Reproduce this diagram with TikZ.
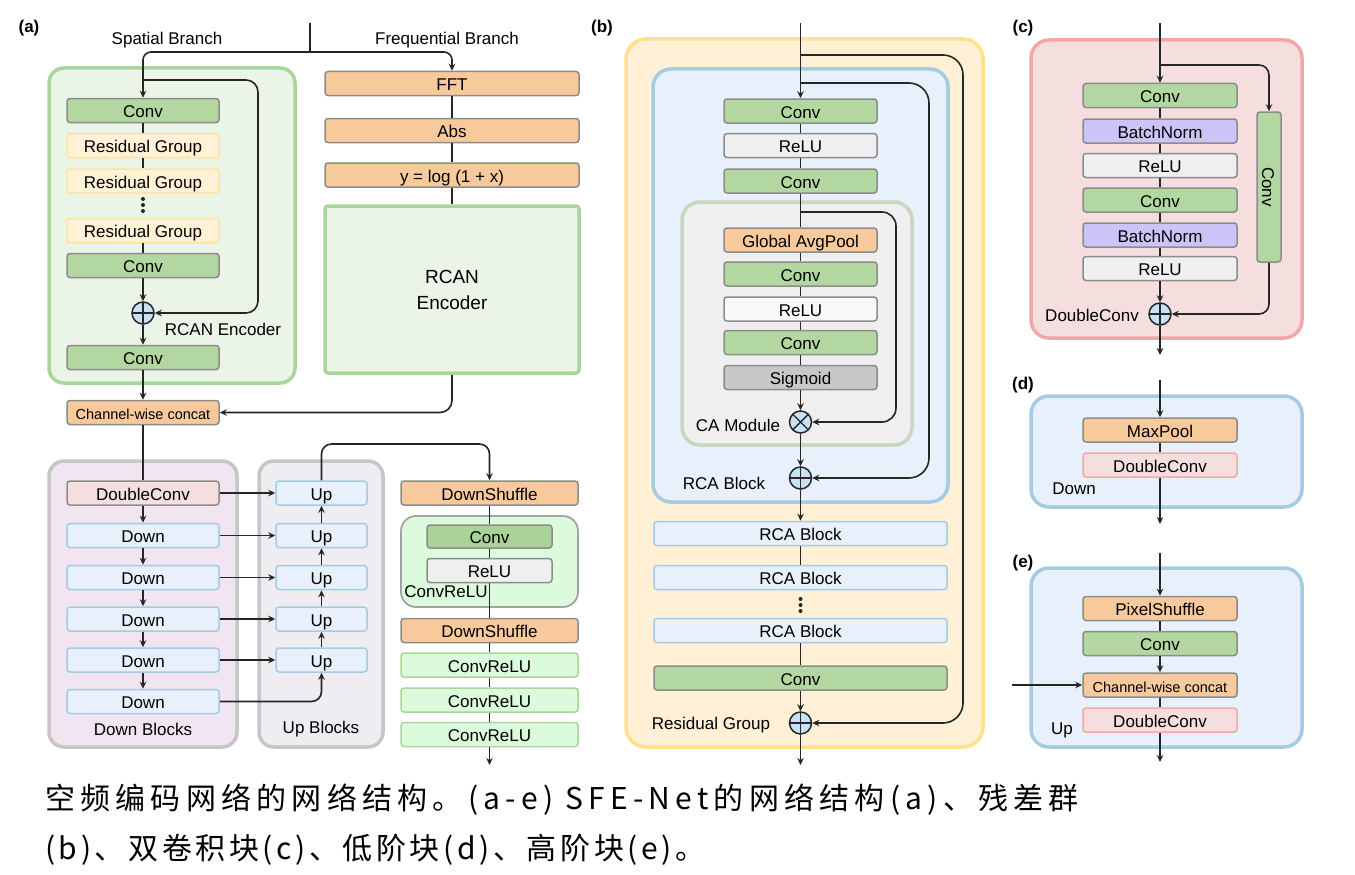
\documentclass[tikz,border=0pt]{standalone}
\usepackage{fontspec}
\setmainfont{Liberation Sans}
\newfontfamily\capfont[LetterSpace=12]{Noto Sans CJK SC}
\newfontfamily\capfontwide[LetterSpace=17.5]{Noto Sans CJK SC}
\usetikzlibrary{arrows.meta}
\newcommand{\labfont}{\fontsize{17}{20}\selectfont}
\definecolor{linecol}{HTML}{262626}
\definecolor{boxgray}{HTML}{8C8C8C}
\definecolor{convg}{HTML}{B2D7A0}
\definecolor{orng}{HTML}{F8C99B}
\definecolor{rgfill}{HTML}{FFF2D6}
\definecolor{rgline}{HTML}{FFE597}
\definecolor{encfill}{HTML}{EAF5E8}
\definecolor{encline}{HTML}{A9D59A}
\definecolor{downfill}{HTML}{F2E5F2}
\definecolor{upfill}{HTML}{EFEDF2}
\definecolor{grpline}{HTML}{C6C6C6}
\definecolor{dcfill}{HTML}{F5DEDE}
\definecolor{dcline}{HTML}{F2A7A7}
\definecolor{bluefill}{HTML}{E8F0FC}
\definecolor{blueline}{HTML}{A5CBE3}
\definecolor{crfill}{HTML}{DCFBDC}
\definecolor{crconv}{HTML}{A9D397}
\definecolor{relufill}{HTML}{EFEFEF}
\definecolor{rgbg}{HTML}{FFF0D6}
\definecolor{rgedge}{HTML}{FFE08C}
\definecolor{cafill}{HTML}{EFEFEF}
\definecolor{caline}{HTML}{C8D6C0}
\definecolor{sigfill}{HTML}{C8C8C8}
\definecolor{bnfill}{HTML}{CEC3F7}
\definecolor{plusfill}{HTML}{C8E1F4}
\tikzset{
  box/.style={draw=boxgray, line width=1.5pt, rounded corners=3pt, inner sep=0pt, minimum width=152pt, minimum height=24pt, text height=14pt, text depth=0pt, font=\labfont},
  convbox/.style={box, fill=convg},
  orbox/.style={box, fill=orng},
  relubox/.style={box, fill=relufill},
  rgbox/.style={box, draw=rgline, fill=rgfill},
  bluebox/.style={box, draw=blueline, fill=bluefill},
  dcbox/.style={box, fill=dcfill},
  dcpink/.style={box, draw=dcline, fill=dcfill},
  crbox/.style={box, draw=encline, fill=crfill},
  grp/.style={line width=3.5pt, rounded corners=15pt},
  ln/.style={draw=linecol, line width=1.6pt},
  arr/.style={ln, -{Stealth[length=7pt, width=6.5pt]}},
  sumnode/.style={circle, draw=linecol, line width=1.5pt, fill=plusfill, minimum size=22pt, inner sep=0pt},
  oplus/.style={sumnode, path picture={\draw[linecol, line width=1.4pt] (path picture bounding box.north) -- (path picture bounding box.south) (path picture bounding box.west) -- (path picture bounding box.east);}},
  otimes/.style={sumnode, path picture={\draw[linecol, line width=1.4pt] (path picture bounding box.north west) -- (path picture bounding box.south east) (path picture bounding box.north east) -- (path picture bounding box.south west);}},
  dot/.style={circle, fill=linecol, minimum size=4pt, inner sep=0pt},
  txt/.style={font=\labfont, inner sep=0pt},
  tag/.style={font=\labfont\bfseries, inner sep=0pt},
  captxt/.style={font=\capfont\fontsize{30}{36}\selectfont, inner sep=0pt, anchor=west}
}
\begin{document}
\begin{tikzpicture}[x=1pt, y=-1pt]
\useasboundingbox (0,0) rectangle (1355,875);
\draw[grp, draw=encline, fill=encfill] (49,68) rectangle (295,383);
\draw[grp, draw=grpline, fill=downfill] (49,461) rectangle (237,747);
\draw[grp, draw=grpline, fill=upfill] (259,461) rectangle (383,747);
\draw[draw=boxgray!80, fill=crfill, line width=1.8pt, rounded corners=15pt] (401,516) rectangle (578,607);
\draw[grp, rounded corners=20pt, draw=rgedge, fill=rgbg] (626,39) rectangle (983,747);
\draw[grp, rounded corners=18pt, draw=blueline, fill=bluefill] (653,69) rectangle (948,502);
\draw[grp, rounded corners=18pt, draw=caline, fill=cafill] (682,202) rectangle (912,445);
\draw[grp, rounded corners=18pt, draw=dcline, fill=dcfill] (1031,40) rectangle (1302,338);
\draw[grp, rounded corners=18pt, draw=blueline, fill=bluefill] (1031,396) rectangle (1302,507);
\draw[grp, rounded corners=18pt, draw=blueline, fill=bluefill] (1031,568) rectangle (1302,747);

\node[tag] (ta) at (29,28) {(a)};
\node[tag] (tb) at (602,28) {(b)};
\node[tag] (tc) at (1023,28) {(c)};
\node[tag] (td) at (1023,385) {(d)};
\node[tag] (te) at (1023,563) {(e)};
\node[txt] (tsp) at (167,40) {Spatial Branch};
\node[txt] (tfr) at (447,40) {Frequential Branch};

\node[convbox] (aconv1) at (143,110.5) {Conv};
\node[rgbox] (arg1) at (143,145.5) {Residual Group};
\node[rgbox] (arg2) at (143,181) {Residual Group};
\node[dot] (adot1) at (143,199) {};
\node[dot] (adot2) at (143,205) {};
\node[dot] (adot3) at (143,211) {};
\node[rgbox] (arg3) at (143,230.5) {Residual Group};
\node[convbox] (aconv2) at (143,265.5) {Conv};
\node[oplus] (aplus) at (143,313) {};
\node[txt] (tenc) at (223,329) {RCAN Encoder};
\node[convbox] (aconv3) at (143,357.5) {Conv};
\node[orbox, font=\fontsize{14.5}{17}\selectfont] (aconcat) at (143,412.5) {Channel-wise concat};
\node[orbox, minimum width=254pt] (afft) at (452,83.5) {FFT};
\node[orbox, minimum width=254pt] (aabs) at (452,130.5) {Abs};
\node[orbox, minimum width=254pt] (alog) at (452,175) {y = log (1 + x)};
\node[draw=encline, fill=encfill, line width=3.5pt, rounded corners=3pt, minimum width=254pt, minimum height=167pt, align=center, font=\fontsize{19}{26}\selectfont] (arcan) at (452,289.5) {RCAN\\Encoder};

\node[dcbox] (adc) at (143,493) {DoubleConv};
\node[bluebox] (ad1) at (143,535.5) {Down};
\node[bluebox] (ad2) at (143,577.5) {Down};
\node[bluebox] (ad3) at (143,619) {Down};
\node[bluebox] (ad4) at (143,660) {Down};
\node[bluebox] (ad5) at (143,701.5) {Down};
\node[txt] (tdb) at (143,729) {Down Blocks};
\node[bluebox, minimum width=91pt] (au1) at (321.5,493) {Up};
\node[bluebox, minimum width=91pt] (au2) at (321.5,535.5) {Up};
\node[bluebox, minimum width=91pt] (au3) at (321.5,577.5) {Up};
\node[bluebox, minimum width=91pt] (au4) at (321.5,619) {Up};
\node[bluebox, minimum width=91pt] (au5) at (321.5,660) {Up};
\node[txt] (tub) at (321,729) {Up Blocks};

\node[orbox, minimum width=177pt] (ads1) at (489.5,493) {DownShuffle};
\node[box, fill=crconv, minimum width=125pt, minimum height=23pt] (acrconv) at (489.5,536.5) {Conv};
\node[relubox, minimum width=125pt] (acrrelu) at (489.5,570.5) {ReLU};
\node[txt] (tcr) at (446,592) {ConvReLU};
\node[orbox, minimum width=177pt] (ads2) at (489.5,630.5) {DownShuffle};
\node[crbox, minimum width=177pt] (acr1) at (489.5,665) {ConvReLU};
\node[crbox, minimum width=177pt] (acr2) at (489.5,700) {ConvReLU};
\node[crbox, minimum width=177pt] (acr3) at (489.5,734.5) {ConvReLU};

\coordinate (ain) at (310,23);
\coordinate (asplit) at (310,52);
\coordinate (askip) at (143,80);
\coordinate (askipc) at (258,80);
\coordinate (aturn) at (489.5,444);
\coordinate (aout) at (489.5,765);
\draw[ln] (ain) -- (asplit);
\draw[arr, rounded corners=8pt] (asplit) -| (aconv1);
\draw[arr, rounded corners=8pt] (asplit) -| (afft);
\draw[arr, rounded corners=12pt] (askip) -- (askipc) |- (aplus);
\draw[ln] (aconv1) -- (arg1);
\draw[ln] (arg1) -- (arg2);
\draw[ln] (arg3) -- (aconv2);
\draw[arr] (aconv2) -- (aplus);
\draw[arr] (aplus) -- (aconv3);
\draw[arr] (aconv3) -- (aconcat);
\draw[ln] (afft) -- (aabs);
\draw[ln] (aabs) -- (alog);
\draw[ln] (alog) -- (arcan);
\draw[arr, rounded corners=12pt] (arcan) |- (aconcat);
\draw[ln] (aconcat) -- (adc);
\draw[arr] (adc) -- (ad1);
\draw[arr] (ad1) -- (ad2);
\draw[arr] (ad2) -- (ad3);
\draw[arr] (ad3) -- (ad4);
\draw[arr] (ad4) -- (ad5);
\draw[arr] (adc) -- (au1);
\draw[arr] (ad1) -- (au2);
\draw[arr] (ad2) -- (au3);
\draw[arr] (ad3) -- (au4);
\draw[arr] (ad4) -- (au5);
\draw[arr, rounded corners=10pt] (ad5) -| (au5);
\draw[arr] (au5) -- (au4);
\draw[arr] (au4) -- (au3);
\draw[arr] (au3) -- (au2);
\draw[arr] (au2) -- (au1);
\draw[arr, rounded corners=10pt] (au1) |- (aturn) -- (ads1);
\draw[ln] (ads1) -- (acrconv);
\draw[ln] (acrconv) -- (acrrelu);
\draw[ln] (acrrelu) -- (ads2);
\draw[ln] (ads2) -- (acr1);
\draw[ln] (acr1) -- (acr2);
\draw[ln] (acr2) -- (acr3);
\draw[arr] (acr3) -- (aout);

\node[convbox, minimum width=153pt] (bconv1) at (800.5,111) {Conv};
\node[relubox, minimum width=153pt] (brelu1) at (800.5,145.5) {ReLU};
\node[convbox, minimum width=153pt] (bconv2) at (800.5,181) {Conv};
\node[orbox, minimum width=153pt] (bgap) at (800.5,240) {Global AvgPool};
\node[convbox, minimum width=153pt] (bconv3) at (800.5,274) {Conv};
\node[relubox, fill=white!60!relufill, minimum width=153pt] (brelu2) at (800.5,309) {ReLU};
\node[convbox, minimum width=153pt] (bconv4) at (800.5,342.5) {Conv};
\node[box, fill=sigfill, minimum width=153pt] (bsig) at (800.5,377.5) {Sigmoid};
\node[otimes] (btimes) at (800.5,422) {};
\node[txt] (tca) at (738,425) {CA Module};
\node[oplus] (bplus1) at (800.5,478) {};
\node[txt] (trca) at (724,483) {RCA Block};
\node[bluebox, minimum width=293pt] (brca1) at (800.5,533.5) {RCA Block};
\node[bluebox, minimum width=293pt] (brca2) at (800.5,577.5) {RCA Block};
\node[dot] (bdot1) at (800.5,599) {};
\node[dot] (bdot2) at (800.5,605) {};
\node[dot] (bdot3) at (800.5,611) {};
\node[bluebox, minimum width=293pt] (brca3) at (800.5,630.5) {RCA Block};
\node[convbox, minimum width=293pt] (bconv5) at (800.5,678) {Conv};
\node[oplus] (bplus2) at (800.5,723) {};
\node[txt] (trg) at (711,725) {Residual Group};

\coordinate (bin) at (800.5,23);
\coordinate (bsk1) at (800.5,55);
\coordinate (bsk1c) at (963,55);
\coordinate (bsk2) at (800.5,83);
\coordinate (bsk2c) at (929,83);
\coordinate (bcask) at (800.5,212);
\coordinate (bcac) at (896,212);
\coordinate (bout) at (800.5,765);
\draw[arr] (bin) -- (bconv1);
\draw[arr, rounded corners=20pt] (bsk1) -- (bsk1c) |- (bplus2);
\draw[arr, rounded corners=20pt] (bsk2) -- (bsk2c) |- (bplus1);
\draw[arr, rounded corners=14pt] (bcask) -- (bcac) |- (btimes);
\draw[ln] (bconv1) -- (brelu1);
\draw[ln] (brelu1) -- (bconv2);
\draw[ln] (bconv2) -- (bgap);
\draw[ln] (bgap) -- (bconv3);
\draw[ln] (bconv3) -- (brelu2);
\draw[ln] (brelu2) -- (bconv4);
\draw[ln] (bconv4) -- (bsig);
\draw[arr] (bsig) -- (btimes);
\draw[arr] (btimes) -- (bplus1);
\draw[arr] (bplus1) -- (brca1);
\draw[ln] (brca1) -- (brca2);
\draw[ln] (brca3) -- (bconv5);
\draw[arr] (bconv5) -- (bplus2);
\draw[arr] (bplus2) -- (bout);

\node[convbox, minimum width=154pt] (cconv1) at (1160,95.5) {Conv};
\node[box, fill=bnfill, minimum width=154pt] (cbn1) at (1160,131) {BatchNorm};
\node[relubox, minimum width=154pt] (crelu1) at (1160,165.5) {ReLU};
\node[convbox, minimum width=154pt] (cconv2) at (1160,200) {Conv};
\node[box, fill=bnfill, minimum width=154pt] (cbn2) at (1160,235) {BatchNorm};
\node[relubox, minimum width=154pt] (crelu2) at (1160,268.5) {ReLU};
\node[convbox, minimum width=150pt, minimum height=24pt, rotate=-90] (cside) at (1269,187) {Conv};
\node[oplus] (cplus) at (1160,314) {};
\node[txt] (tdcv) at (1092,315) {DoubleConv};
\coordinate (cin) at (1160,23);
\coordinate (csk) at (1160,65);
\coordinate (cout) at (1160,355);
\draw[arr] (cin) -- (cconv1);
\draw[arr, rounded corners=10pt] (csk) -| (cside);
\draw[arr, rounded corners=10pt] (cside) |- (cplus);
\draw[ln] (cconv1) -- (cbn1);
\draw[ln] (cbn1) -- (crelu1);
\draw[ln] (crelu1) -- (cconv2);
\draw[ln] (cconv2) -- (cbn2);
\draw[ln] (cbn2) -- (crelu2);
\draw[arr] (crelu2) -- (cplus);
\draw[arr] (cplus) -- (cout);

\node[orbox, minimum width=154pt] (dmax) at (1160,430) {MaxPool};
\node[dcpink, minimum width=154pt] (ddc) at (1160,465) {DoubleConv};
\node[txt] (tdown) at (1074,489) {Down};
\coordinate (din) at (1160,380);
\coordinate (dout) at (1160,524);
\draw[arr] (din) -- (dmax);
\draw[ln] (dmax) -- (ddc);
\draw[arr] (ddc) -- (dout);

\node[orbox, minimum width=154pt] (eps) at (1160,608.5) {PixelShuffle};
\node[convbox, minimum width=154pt] (econv) at (1160,643.5) {Conv};
\node[orbox, minimum width=154pt, font=\fontsize{14.5}{17}\selectfont] (ecat) at (1160,685) {Channel-wise concat};
\node[dcpink, minimum width=154pt] (edc) at (1160,720) {DoubleConv};
\node[txt] (tup) at (1062,730) {Up};
\coordinate (ein) at (1160,553);
\coordinate (eleft) at (1012,685);
\coordinate (eout) at (1160,762);
\draw[arr] (ein) -- (eps);
\draw[ln] (eps) -- (econv);
\draw[arr] (econv) -- (ecat);
\draw[arr] (eleft) -- (ecat);
\draw[ln] (ecat) -- (edc);
\draw[arr] (edc) -- (eout);

\node[captxt, font=\capfontwide\fontsize{30}{36}\selectfont] (cap1) at (45,800) {空频编码网络的网络结构。(a-e) SFE-Net的网络结构(a)、残差群};
\node[captxt] (cap2) at (45,850) {(b)、双卷积块(c)、低阶块(d)、高阶块(e)。};
\end{tikzpicture}
\end{document}
